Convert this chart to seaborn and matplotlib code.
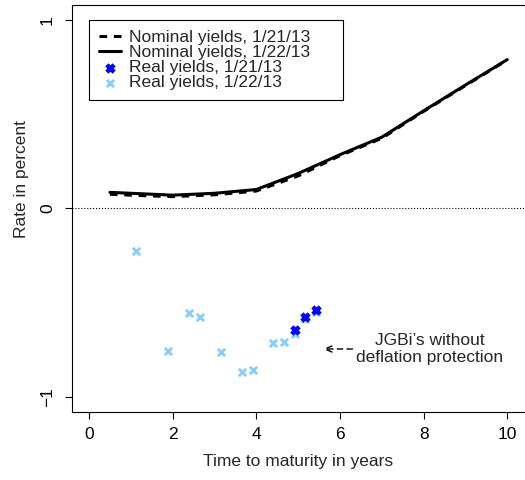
"""
plot.py - JGB nominal vs real yield curves, 21/22 Jan 2013
"""

import matplotlib
matplotlib.use('Agg')
import matplotlib.pyplot as plt
import seaborn as sns

sns.set_style('white')
plt.rcParams['font.family'] = ['Liberation Sans', 'DejaVu Sans']

# Nominal yield curve (maturity in years, rate in percent)
nominal_maturity = [0.5, 1, 2, 3, 4, 5, 6, 7, 8, 9, 10]
nominal_0121 = [0.075, 0.07, 0.062, 0.072, 0.092, 0.172, 0.28, 0.372, 0.515, 0.652, 0.788]
nominal_0122 = [0.085, 0.08, 0.07, 0.08, 0.10, 0.185, 0.285, 0.378, 0.518, 0.655, 0.79]

# Real (inflation-linked) yields
real_maturity_0122 = [1.13, 1.89, 2.39, 2.65, 3.15, 3.65, 3.91, 4.41, 4.67, 4.92, 5.17, 5.42]
real_0122 = [-0.227, -0.756, -0.555, -0.577, -0.762, -0.867, -0.858, -0.717, -0.708, -0.667, -0.587, -0.552]
real_maturity_0121 = [4.92, 5.17, 5.42]
real_0121 = [-0.646, -0.575, -0.538]

FS = 12.5
LIGHT = '#87CEFA'

fig = plt.figure(figsize=(5.25, 4.8), dpi=100)
ax = fig.add_axes([0.1377, 0.1423, 0.8604, 0.8473])

ax.axhline(0, color='black', linestyle=':', linewidth=0.8)

sns.lineplot(x=nominal_maturity, y=nominal_0121, ax=ax, color='black',
             linewidth=2.2, label='Nominal yields, 1/21/13')
ax.lines[-1].set_dashes((2.5, 2.2))
sns.lineplot(x=nominal_maturity, y=nominal_0122, ax=ax, color='black',
             linewidth=2.2, label='Nominal yields, 1/22/13')

sns.scatterplot(x=real_maturity_0122, y=real_0122, ax=ax, marker='x', color=LIGHT,
                s=28, linewidth=2.0, label='Real yields, 1/22/13', zorder=3)
sns.scatterplot(x=real_maturity_0121, y=real_0121, ax=ax, marker='x', color='blue',
                s=28, linewidth=3.2, label='Real yields, 1/21/13', zorder=4)

ax.text(8.14, -0.745, 'JGBi\u2019s without\ndeflation protection', ha='center', va='center',
        fontsize=FS, linespacing=1.15)
ax.annotate('', xy=(5.6, -0.747), xytext=(6.3, -0.747),
            arrowprops=dict(arrowstyle='->,head_length=0.5,head_width=0.22', linestyle=(0, (4, 3)),
                            lw=1, color='black', shrinkA=0, shrinkB=0))

ax.set_xlim(-0.4, 10.4)
ax.set_ylim(-1.08, 1.08)
ax.set_xticks([0, 2, 4, 6, 8, 10])
ax.set_yticks([-1, 0, 1])
ax.tick_params(axis='both', direction='out', length=5, width=0.8, labelsize=FS,
               colors='black', bottom=True, left=True)
ax.tick_params(axis='x', pad=5.8)
ax.tick_params(axis='y', pad=7.5)
for lab in ax.get_yticklabels():
    lab.set_rotation(90)
    lab.set_va('center')

for side in ['left', 'bottom', 'top']:
    ax.spines[side].set_color('black')
    ax.spines[side].set_linewidth(0.8)
ax.spines['right'].set_visible(False)

ax.set_xlabel('Time to maturity in years', fontsize=FS)
ax.set_ylabel('Rate in percent', fontsize=FS)
ax.xaxis.set_label_coords(0.5, -0.104)
ax.yaxis.set_label_coords(-0.096, 0.572)

# legend in R order
handles, labels = ax.get_legend_handles_labels()
order = ['Nominal yields, 1/21/13', 'Nominal yields, 1/22/13',
         'Real yields, 1/21/13', 'Real yields, 1/22/13']
hmap = dict(zip(labels, handles))
leg = ax.legend([hmap[k] for k in order], order, loc='upper left',
                bbox_to_anchor=(0, 1 - 0.42, 6.08, 0.42), bbox_transform=ax.transData,
                mode='expand', borderaxespad=0, fontsize=FS, frameon=True, fancybox=False,
                edgecolor='black', framealpha=1, labelspacing=0.0, borderpad=0.55,
                handlelength=1.27, handletextpad=0.5)
leg.get_frame().set_linewidth(0.8)

plt.savefig('out.png', dpi=100)
plt.close()
